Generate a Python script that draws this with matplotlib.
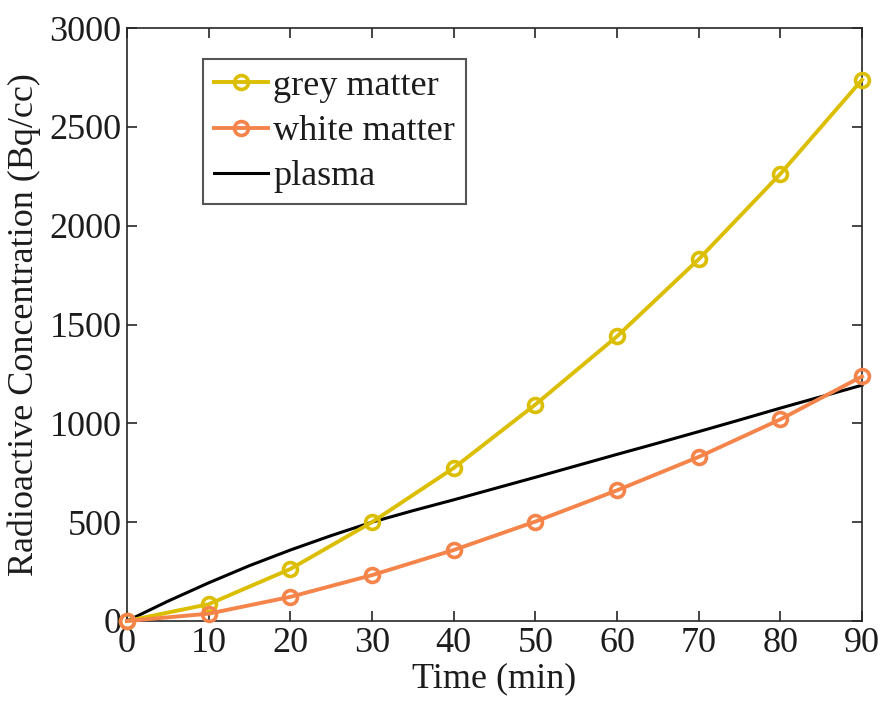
import matplotlib
matplotlib.use("Agg")
import matplotlib.pyplot as plt

time_pts = [0, 10, 20, 30, 40, 50, 60, 70, 80, 90]
grey_matter = [0, 85, 263, 500, 774, 1095, 1440, 1830, 2262, 2738]
white_matter = [0, 37, 122, 232, 359, 503, 661, 830, 1020, 1237]
plasma_t = [0, 5, 10, 15, 20, 25, 30, 35, 40, 45, 50, 55, 60, 65, 70, 75, 80, 85, 90]
plasma = [0, 100, 193, 280, 359, 432, 500, 558, 613, 670, 727, 785, 843, 900, 958, 1017, 1077, 1135, 1193]

xticks = [0, 10, 20, 30, 40, 50, 60, 70, 80, 90]
yticks = [0, 500, 1000, 1500, 2000, 2500, 3000]

plt.rcParams['font.family'] = ['Liberation Serif', 'DejaVu Serif']
FS = 26
TXT = '#1c1c1c'

fig = plt.figure(figsize=(8.93, 7.18), dpi=100)
ax = fig.add_axes([0.1422, 0.1351, 0.9653 - 0.1422, 0.961 - 0.1351])

ax.plot(time_pts, grey_matter, color='#DBBE00', lw=2.8, marker='o', ms=10,
        mfc='none', mew=2.6, label='grey matter', clip_on=False, zorder=3)
ax.plot(time_pts, white_matter, color='#F5844A', lw=2.8, marker='o', ms=10,
        mfc='none', mew=2.6, label='white matter', clip_on=False, zorder=3)
ax.plot(plasma_t, plasma, color='black', lw=2.2, label='plasma', clip_on=False, zorder=2)

ax.set_xlim(0, 90)
ax.set_ylim(0, 3000)
ax.set_xticks(xticks)
ax.set_yticks(yticks)
ax.tick_params(direction='in', length=7, width=1.2, top=True, right=True,
               labelsize=FS, color='#262626', labelcolor=TXT, pad=4)
for s in ax.spines.values():
    s.set_color('#262626')
    s.set_linewidth(1.2)
ax.set_xlabel('Time (min)', fontsize=FS, color=TXT, labelpad=2)
ax.set_ylabel('Radioactive Concentration (Bq/cc)', fontsize=FS, color=TXT, labelpad=6)

leg = ax.legend(loc='upper left', bbox_to_anchor=(0.103, 0.948), fontsize=FS,
                frameon=True, fancybox=False, edgecolor='#555555', handlelength=1.5,
                handletextpad=0.15, borderpad=0.3, labelspacing=0.33, borderaxespad=0,
                framealpha=1)
leg.get_frame().set_linewidth(1.5)
for t in leg.get_texts():
    t.set_color(TXT)

fig.savefig('out.png', dpi=100)
